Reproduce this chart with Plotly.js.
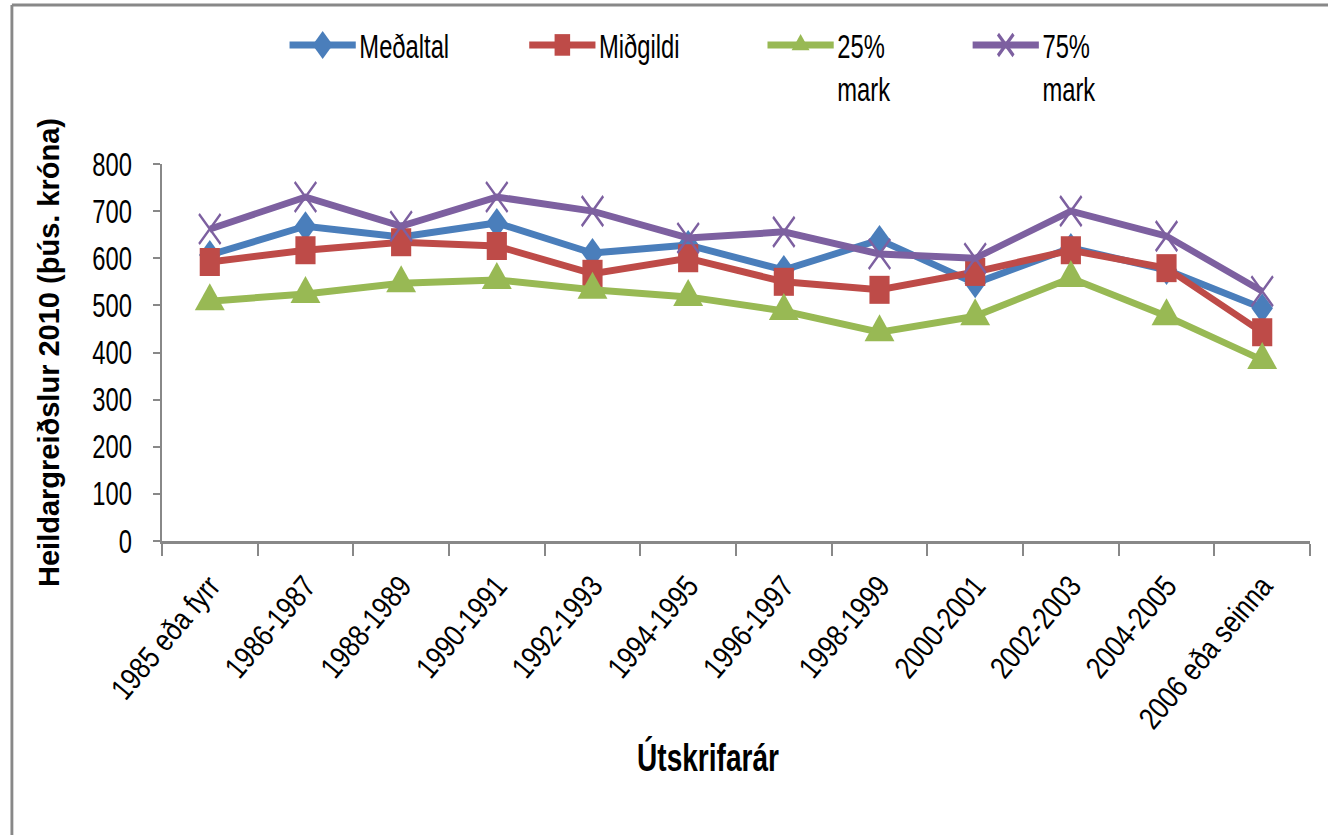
<!DOCTYPE html>
<html>
<head>
<meta charset="utf-8">
<script src="https://cdn.plot.ly/plotly-3.0.1.min.js"></script>
<style>
html,body{margin:0;padding:0;background:#fff;overflow:hidden;width:1328px;height:835px;}
#chart{width:1845px;height:835px;transform:scaleX(0.7198);transform-origin:0 0;}
</style>
</head>
<body>
<div id="chart"></div>
<script>
const categories = ["1985 eða fyrr","1986-1987","1988-1989","1990-1991","1992-1993","1994-1995","1996-1997","1998-1999","2000-2001","2002-2003","2004-2005","2006 eða seinna"];
const medaltal = [607, 668, 645, 675, 611, 628, 575, 639, 547, 622, 575, 494];
const midgildi = [592, 617, 634, 626, 567, 600, 550, 533, 571, 617, 579, 443];
const mark25 = [509, 524, 547, 554, 533, 518, 488, 443, 477, 558, 477, 384];
const mark75 = [662, 730, 668, 730, 700, 643, 656, 609, 600, 700, 647, 530];
const seriesNames = ["Meðaltal", "Miðgildi", "25%<br>mark", "75%<br>mark"];
const yTicks = [0,100,200,300,400,500,600,700,800];
const xTitle = "Útskrifarár";
const yTitle = "Heildargreiðslur 2010 (þús. króna)";

const S = 0.7198;
const FONT = "'Liberation Sans', Arial, sans-serif";

const traces = [
  {x: categories, y: medaltal, name: seriesNames[0], type: 'scatter', mode: 'lines+markers', legendwidth: 226,
   line: {color: '#4A7EBB', width: 7}, marker: {symbol: 'diamond', size: 23, color: '#4A7EBB'}},
  {x: categories, y: midgildi, name: seriesNames[1], type: 'scatter', mode: 'lines+markers', legendwidth: 224,
   line: {color: '#BE4B48', width: 7}, marker: {symbol: 'square', size: 28, color: '#BE4B48'}},
  {x: categories, y: mark25, name: seriesNames[2], type: 'scatter', mode: 'lines+markers', legendwidth: 178,
   line: {color: '#98B954', width: 7}, marker: {symbol: 'triangle-up', size: 36, color: '#98B954'}},
  {x: categories, y: mark75, name: seriesNames[3], type: 'scatter', mode: 'lines+markers', legendwidth: 150,
   line: {color: '#7D60A0', width: 7}, marker: {symbol: 'x-thin', size: 30, color: '#7D60A0', line: {color: '#7D60A0', width: 3}}}
];

const layout = {
  width: 1845, height: 835,
  margin: {l: 225, r: 25, t: 164, b: 294},
  paper_bgcolor: '#fff', plot_bgcolor: '#fff',
  font: {family: FONT, size: 33, color: '#000'},
  showlegend: true,
  legend: {orientation: 'h', x: 0.108, xanchor: 'left', y: 1.39, yanchor: 'top',
           font: {family: FONT, size: 33, color: '#000'}, itemwidth: 92,
           valign: 'top', traceorder: 'normal'},
  xaxis: {type: 'category', tickson: 'boundaries', ticks: 'outside', ticklen: 12, tickcolor: '#888', tickwidth: 2.5,
          showline: true, linecolor: '#888', linewidth: 2.5, showgrid: false, zeroline: false,
          tickangle: -45, tickfont: {family: FONT, size: 31}, ticklabelstandoff: 12,
          range: [-0.5, 11.5]},
  yaxis: {range: [0, 800], tickvals: yTicks, ticks: 'outside', ticklen: 10, tickcolor: '#888', tickwidth: 2,
          showline: true, linecolor: '#888', linewidth: 3, showgrid: false, zeroline: false,
          tickfont: {family: FONT, size: 33}, ticklabelstandoff: 22,
          title: {text: '<b>' + yTitle + '</b>', font: {family: FONT, size: 29}, standoff: 38}},
  annotations: [
    {text: '<b>' + xTitle + '</b>', xref: 'paper', yref: 'paper', x: 0.4756, y: -0.575, xanchor: 'center', yanchor: 'middle',
     showarrow: false, font: {family: FONT, size: 39, color: '#000'}}
  ],
  shapes: [
    {type: 'line', xref: 'paper', yref: 'paper', x0: -0.1307, x1: 1.2, y0: 1.4218, y1: 1.4218, line: {color: '#888', width: 3}},
    {type: 'line', xref: 'paper', yref: 'paper', x0: -0.1307, x1: -0.1307, y0: 1.4218, y1: -1, line: {color: '#888', width: 4}}
  ]
};

// Undo the horizontal squeeze for rotated texts so their glyphs stay upright.
function retransform(el, deg, n) {
  const tr = el.getAttribute('transform') || '';
  const m = tr.match(/rotate\(\s*(-?[\d.eE+-]+)[\s,]+(-?[\d.eE+-]+)[\s,]+(-?[\d.eE+-]+)\s*\)/);
  if (!m) return;
  const cx = +m[2], cy = +m[3];
  const th = deg * Math.PI / 180, c = Math.cos(th), sn = Math.sin(th);
  const a = c * n / S, b = sn * n, c2 = -sn / S, d = c;
  const rep = 'translate(' + cx + ',' + cy + ') matrix(' + [a, b, c2, d, 0, 0].join(',') + ') translate(' + (-cx) + ',' + (-cy) + ')';
  el.setAttribute('transform', tr.replace(m[0], rep));
}

Plotly.newPlot('chart', traces, layout, {displayModeBar: false, staticPlot: true}).then(function(gd) {
  gd.querySelectorAll('.xtick text').forEach(function(t) { retransform(t, -50, 0.82); });
  gd.querySelectorAll('.ytitle').forEach(function(t) { retransform(t, -90, 1); });
  gd.querySelectorAll('.legend .legendpoints path.scatterpts').forEach(function(p) {
    const tr = p.getAttribute('transform') || '';
    p.setAttribute('transform', tr + ' scale(1.35)');
  });
});
</script>
</body>
</html>
